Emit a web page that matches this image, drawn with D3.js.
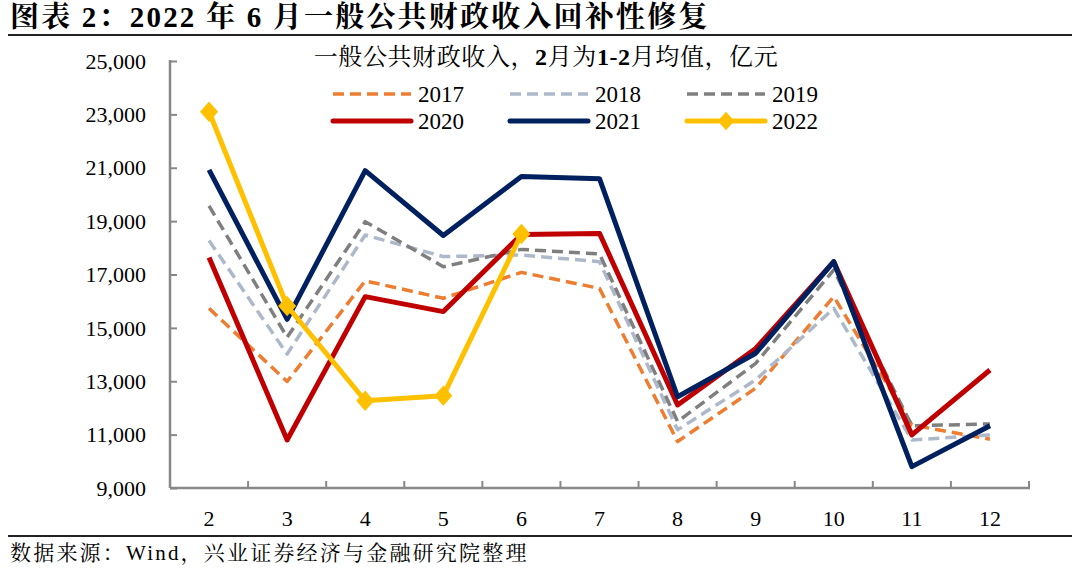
<!DOCTYPE html>
<html><head><meta charset="utf-8">
<script src="https://cdn.jsdelivr.net/npm/d3@7/dist/d3.min.js"></script>
<style>
body{margin:0;background:#fff;}
svg{display:block;}
text{font-family:"Liberation Serif","Times New Roman","Noto Serif CJK SC","Noto Sans CJK SC",serif;}
</style></head>
<body><svg id="c" width="1080" height="570"></svg>
<script>
const months = ["2","3","4","5","6","7","8","9","10","11","12"];
const yTicks = [9000,11000,13000,15000,17000,19000,21000,23000,25000];
const v2017 = [15730,12990,16760,16110,17080,16480,10740,12740,16170,11360,10830];
const v2018 = [18270,14020,18480,17670,17730,17480,11180,13050,15730,10800,10990];
const v2019 = [19570,14650,18980,17290,17940,17770,11490,13670,17170,11330,11400];
const v2020 = [17640,10800,16170,15610,18500,18540,12110,14230,17480,10990,13420];
const v2021 = [20920,15320,20890,18460,20670,20590,12420,14050,17480,9800,11330];
const v2022 = [23100,15820,12270,12460,18520];
const seriesNames = ["2017","2018","2019","2020","2021","2022"];

const series = [
  {name:"2017", values:v2017, color:"#ED7D31", dash:"11,6", w:3.5},
  {name:"2018", values:v2018, color:"#ADB9CA", dash:"11,6", w:3.5},
  {name:"2019", values:v2019, color:"#7F7F7F", dash:"11,6", w:3.5},
  {name:"2020", values:v2020, color:"#C00000", dash:null, w:5},
  {name:"2021", values:v2021, color:"#002060", dash:null, w:5},
  {name:"2022", values:v2022, color:"#FFC000", dash:null, w:5, marker:true}
];

const svg = d3.select("#c");
const L = 170, R = 1029, T = 61, B = 488;
const x = d3.scaleBand().domain(months).range([L, R]);
const y = d3.scaleLinear().domain([9000, 25000]).range([B, T]);
const axisColor = "#888";

// title
svg.append("text").attr("x", 10).attr("y", 27).attr("font-size", 29).attr("font-weight", "bold")
  .attr("letter-spacing", 2.2).attr("fill", "#000").text("图表 2：2022 年 6 月一般公共财政收入回补性修复");
svg.append("line").attr("x1", 8).attr("x2", 1072).attr("y1", 35).attr("y2", 35)
  .attr("stroke", "#222").attr("stroke-width", 2);

// footer
svg.append("line").attr("x1", 8).attr("x2", 1072).attr("y1", 536).attr("y2", 536)
  .attr("stroke", "#222").attr("stroke-width", 2);
svg.append("text").attr("x", 10).attr("y", 560).attr("font-size", 21).attr("letter-spacing", 2.2)
  .attr("fill", "#000").text("数据来源：Wind，兴业证券经济与金融研究院整理");

// y axis
const yAxis = d3.axisRight(y).tickValues(yTicks).tickSize(7).tickFormat("");
const gy = svg.append("g").attr("transform", `translate(${L},0)`).call(yAxis);
gy.select(".domain").remove();
gy.selectAll("line").attr("stroke", axisColor).attr("stroke-width", 2);
svg.append("line").attr("x1", L).attr("x2", L).attr("y1", T-1).attr("y2", B)
  .attr("stroke", axisColor).attr("stroke-width", 2.5);
svg.append("g").selectAll("text").data(yTicks).join("text")
  .attr("x", 146).attr("y", d => y(d)).attr("dy", "0.35em").attr("text-anchor", "end")
  .attr("font-size", 22).attr("fill", "#000").text(d => d3.format(",")(d));

// x axis
const bounds = months.map(m => x(m)).concat([R]);
svg.append("g").selectAll("line").data(bounds.slice(1)).join("line")
  .attr("x1", d => d).attr("x2", d => d).attr("y1", B).attr("y2", B-7)
  .attr("stroke", axisColor).attr("stroke-width", 2);
svg.append("line").attr("x1", L).attr("x2", R+1).attr("y1", B).attr("y2", B)
  .attr("stroke", axisColor).attr("stroke-width", 2.5);
svg.append("g").selectAll("text").data(months).join("text")
  .attr("x", d => x(d) + x.bandwidth()/2).attr("y", 518).attr("dy", "0.35em")
  .attr("text-anchor", "middle").attr("font-size", 22).attr("fill", "#000").text(d => d);

// lines
const line = d3.line().x((d, i) => x(months[i]) + x.bandwidth()/2).y(d => y(d));
series.forEach(s => {
  const p = svg.append("path").datum(s.values).attr("d", line).attr("fill", "none")
    .attr("stroke", s.color).attr("stroke-width", s.w).attr("stroke-linejoin", "round");
  if (s.dash) p.attr("stroke-dasharray", s.dash);
  if (s.marker) {
    svg.append("g").selectAll("path").data(s.values).join("path")
      .attr("d", d3.symbol(d3.symbolDiamond, 140))
      .attr("transform", (d, i) => `translate(${x(months[i]) + x.bandwidth()/2},${y(d)}) scale(1.3,0.85)`)
      .attr("fill", s.color).attr("stroke", s.color).attr("stroke-width", 1);
  }
});

// subtitle
const st = svg.append("text").attr("x", 546).attr("y", 65).attr("text-anchor", "middle")
  .attr("font-size", 24).attr("letter-spacing", 0.6).attr("fill", "#000");
st.append("tspan").text("一般公共财政收入，");
st.append("tspan").attr("font-weight", "bold").text("2");
st.append("tspan").text("月为");
st.append("tspan").attr("font-weight", "bold").text("1-2");
st.append("tspan").text("月均值，亿元");

// legend
const lx = [333, 510, 687], ly = [94, 121];
series.forEach((s, i) => {
  const cx = lx[i % 3], cy = ly[Math.floor(i / 3)];
  const l = svg.append("line").attr("x1", cx).attr("x2", cx + 78).attr("y1", cy).attr("y2", cy)
    .attr("stroke", s.color).attr("stroke-width", s.w).attr("stroke-linecap", "round");
  if (s.dash) l.attr("stroke-dasharray", "11,6").attr("stroke-linecap", "butt");
  if (s.marker) {
    svg.append("path").attr("d", d3.symbol(d3.symbolDiamond, 140))
      .attr("transform", `translate(${cx + 39},${cy}) scale(1.3,0.85)`).attr("fill", s.color);
  }
  svg.append("text").attr("x", cx + 85).attr("y", cy).attr("dy", "0.35em")
    .attr("font-size", 23).attr("fill", "#000").text(s.name);
});
</script></body></html>
